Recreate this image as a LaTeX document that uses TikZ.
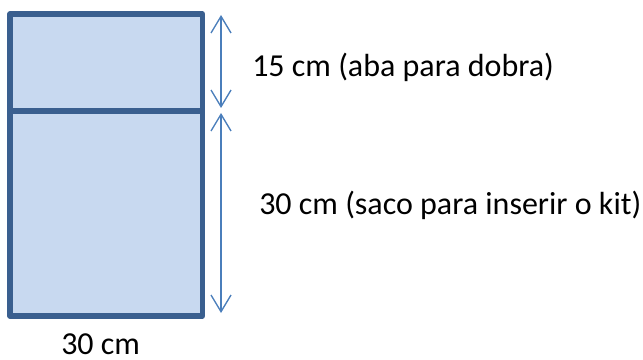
\documentclass[tikz,border=0pt]{standalone}
\usepackage{fontspec}
\setmainfont{Carlito}
\usetikzlibrary{arrows.meta}
\definecolor{sackline}{HTML}{3A5F8F}
\definecolor{sackfill}{HTML}{C8D9F0}
\definecolor{dimline}{HTML}{4A7EBB}
\tikzset{
  sack/.style={draw=sackline, fill=sackfill, line width=3.8pt, line join=round},
  dimarrow/.style={draw=dimline, line width=1pt, {Straight Barb[length=12.5pt,width=15pt]}-{Straight Barb[length=12.5pt,width=15pt]}},
  lbl/.style={anchor=base west, inner sep=0pt, font=\fontsize{24}{28}\selectfont}
}
\begin{document}
\begin{tikzpicture}[x=0.75pt,y=-0.75pt]
\useasboundingbox (0,0) rectangle (643,360);
\draw[sack] (10,14) rectangle (202.5,316);
\draw[sack] (10,111) -- (202.5,111);
\coordinate (flaptop) at (221,15);
\coordinate (flapbot) at (221,108);
\coordinate (bagtop) at (221,113);
\coordinate (bagbot) at (221,313);
\draw[dimarrow] (flaptop) -- (flapbot);
\draw[dimarrow] (bagtop) -- (bagbot);
\node[lbl] (flap) at (252,77) {15 cm (aba para dobra)};
\node[lbl] (bag) at (259,214) {30 cm (saco para inserir o kit)};
\node[lbl] (width) at (61,354) {30 cm};
\end{tikzpicture}
\end{document}
